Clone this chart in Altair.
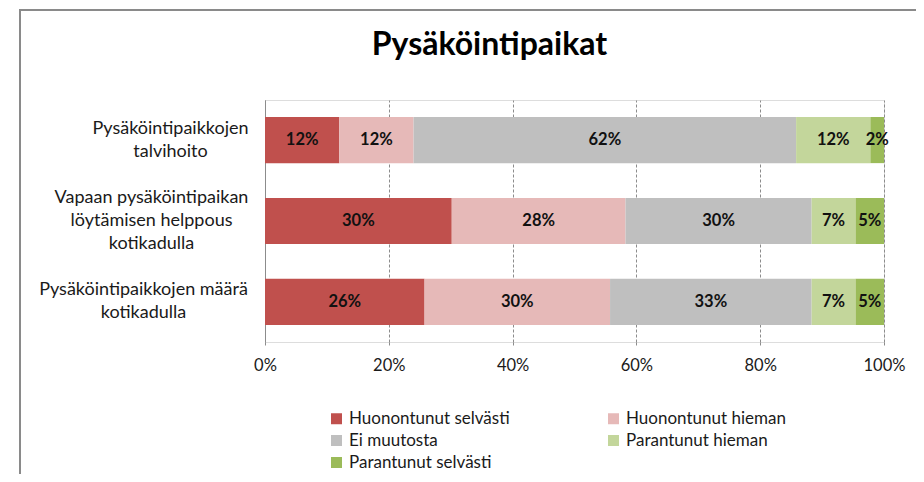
import altair as alt
import pandas as pd

# ---- data ----
categories = [
    "Pysäköintipaikkojen|talvihoito",
    "Vapaan pysäköintipaikan|löytämisen helppous|kotikadulla",
    "Pysäköintipaikkojen määrä|kotikadulla",
]
series = [
    "Huonontunut selvästi",
    "Huonontunut hieman",
    "Ei muutosta",
    "Parantunut hieman",
    "Parantunut selvästi",
]
colors = ["#C0504D", "#E6B9B8", "#BFBFBF", "#C3D69B", "#9BBB59"]

talvihoito = [12.0, 12.0, 61.8, 12.0, 2.2]
vapaan = [30.2, 28.1, 30.1, 7.1, 4.6]
maara = [25.8, 30.0, 32.6, 7.1, 4.6]
x_ticks = [0, 0.2, 0.4, 0.6, 0.8, 1.0]

rows = []
for cat, vals in zip(categories, [talvihoito, vapaan, maara]):
    for i, (s, v) in enumerate(zip(series, vals)):
        rows.append({"category": cat, "series": s, "order": i, "value": v})
df = pd.DataFrame(rows)

FONT = "Lato"

label_pad = {
    "condition": [
        {"test": f"datum.value === '{categories[0]}'", "value": 95},
        {"test": f"datum.value === '{categories[1]}'", "value": 114},
    ],
    "value": 122,
}
label_off = {
    "condition": [
        {"test": f"datum.value === '{categories[1]}'", "value": -23},
    ],
    "value": -11.5,
}

base = alt.Chart(df).transform_stack(
    stack="value",
    as_=["start", "end"],
    groupby=["category"],
    offset="normalize",
    sort=[alt.SortField("order", order="ascending")],
).transform_calculate(
    mid="(datum.start + datum.end) / 2",
    lbl="format(datum.value, '.0f') + '%'",
)

y_enc = alt.Y(
    "category:N",
    sort=categories,
    title=None,
    scale=alt.Scale(paddingInner=0.43, paddingOuter=0.21),
    axis=alt.Axis(
        labelExpr="split(datum.label, '|')",
        labelAlign="center",
        labelPadding=label_pad,
        labelOffset=label_off,
        labelFont=FONT,
        labelFontSize=18,
        labelColor="#1a1a1a",
        labelLineHeight=23,
        ticks=False,
        domain=True,
        domainColor="#8c8c8c",
        domainWidth=1,
        grid=False,
        labelLimit=400,
    ),
)

bars = base.mark_bar().encode(
    x=alt.X(
        "start:Q",
        title=None,
        scale=alt.Scale(domain=[0, 1], nice=False),
        axis=alt.Axis(
            values=x_ticks,
            format=".0%",
            labelFont=FONT,
            labelFontSize=16.5,
            labelColor="#1a1a1a",
            labelPadding=11,
            labelFlush=False,
            domain=False,
            grid=True,
            gridColor="#8c8c8c",
            gridDash=[3, 2],
            gridWidth=1,
            ticks=True,
            tickSize=4,
            tickColor="#8c8c8c",
            tickDash=[3, 2],
        ),
    ),
    x2="end:Q",
    y=y_enc,
    color=alt.Color(
        "series:N",
        scale=alt.Scale(domain=series, range=colors),
        legend=alt.Legend(
            title=None,
            orient="none",
            direction="horizontal",
            legendX=63,
            legendY=310,
            columns=2,
            columnPadding=95,
            rowPadding=4,
            symbolType="square",
            symbolSize=121,
            symbolStrokeWidth=0,
            labelFont=FONT,
            labelFontSize=17,
            labelColor="#1a1a1a",
            labelOffset=4,
            labelLimit=400,
            padding=0,
        ),
    ),
)

texts = base.mark_text(
    font=FONT, fontSize=16.5, fontWeight="bold", color="#111111"
).encode(
    x=alt.X("mid:Q"),
    y=alt.Y("category:N", sort=categories),
    text="lbl:N",
)

frame = alt.Chart(pd.DataFrame({"f": [0]})).mark_rect(
    fill="transparent", stroke="#8a8a8a", strokeWidth=2
).encode(
    x=alt.value(-245),
    x2=alt.value(652),
    y=alt.value(-90),
    y2=alt.value(400),
)

chart = alt.layer(frame, bars, texts).properties(
    width=619,
    height=242,
    title=alt.TitleParams(
        "Pysäköintipaikat",
        font=FONT,
        fontSize=32,
        fontWeight="bold",
        color="#000000",
        anchor="middle",
        dx=-85,
        offset=0,
        dy=53,
    ),
    autosize=alt.AutoSizeParams(type="none"),
    padding={"left": 257, "top": 92, "right": 32, "bottom": 132},
).configure_view(fill="#F2F2F2", stroke="transparent").configure(background="#ffffff")

chart.save("out.html", embed_options={"renderer": "svg", "actions": False})
